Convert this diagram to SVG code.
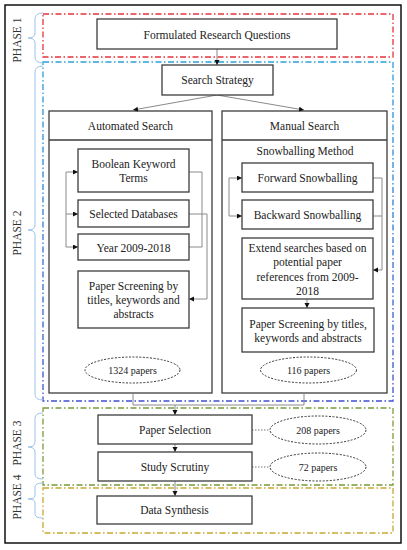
<svg xmlns="http://www.w3.org/2000/svg" width="407" height="550" viewBox="0 0 407 550">
<style>
text{font-family:"Liberation Serif","Times New Roman",serif;font-size:11.5px;fill:#222;text-anchor:middle}
.sm{font-size:10px}
.lbl{font-size:11.5px;fill:#333}
.node{fill:#fff;stroke:#3c3c3c;stroke-width:1.3}
.ell{fill:#fff;stroke:#333;stroke-width:1;stroke-dasharray:2 1.5}
.con{fill:none;stroke:#8a8a8a;stroke-width:1}
.arr{marker-end:url(#ah)}
.dot{fill:none;stroke:#777;stroke-width:1;stroke-dasharray:1.5 1.5}
.phase{fill:none;stroke-width:1.3;stroke-dasharray:6 2.5 1.5 2.5}
.br{fill:none;stroke:#9dc3e6;stroke-width:1}
</style>
<defs>
<marker id="ah" markerUnits="userSpaceOnUse" markerWidth="6" markerHeight="6" refX="5" refY="2.5" orient="auto">
<path d="M0,0 L5,2.5 L0,5 z" fill="#111"/>
</marker>
<linearGradient id="bg" x1="0" y1="0" x2="0" y2="1">
<stop offset="0" stop-color="#2aa0d8"/>
<stop offset="1" stop-color="#3b4fd0"/>
</linearGradient>
</defs>
<rect x="0" y="0" width="407" height="550" fill="#fff"/>
<rect x="5" y="5" width="396" height="538" fill="none" stroke="#111" stroke-width="1.5"/>

<g id="phases">
<rect class="phase" x="43" y="14" width="350" height="43" stroke="#e5333c"/>
<rect class="phase" x="43" y="62" width="350" height="339" stroke="url(#bg)"/>
<rect class="phase" x="43" y="408" width="350" height="77" stroke="#7a9a3a"/>
<rect class="phase" x="43" y="488" width="350" height="45" stroke="#c8a830"/>
<path class="br" d="M43,13 Q35,13 35,19 V33 Q35,38 28,38 Q35,38 35,43 V57 Q35,63 43,63"/>
<path class="br" d="M43,66 Q35,66 35,72 V225 Q35,230 28,230 Q35,230 35,235 V394 Q35,400 43,400"/>
<path class="br" d="M43,413 Q35,413 35,418 V442 Q35,447 28,447 Q35,447 35,452 V474 Q35,479 43,479"/>
<path class="br" d="M43,483 Q35,483 35,487 V495 Q35,499 28,499 Q35,499 35,503 V514 Q35,518 43,518"/>
<text class="lbl" transform="translate(21,40) rotate(-90)">PHASE 1</text>
<text class="lbl" transform="translate(21,233) rotate(-90)">PHASE 2</text>
<text class="lbl" transform="translate(21,443) rotate(-90)">PHASE 3</text>
<text class="lbl" transform="translate(21,497) rotate(-90)">PHASE 4</text>
</g>

<g id="automated">
<rect class="node" x="49" y="111" width="163" height="282"/>
<line x1="49" y1="140" x2="212" y2="140" stroke="#3c3c3c" stroke-width="1.5"/>
<text x="130.5" y="130">Automated Search</text>
</g>
<g id="manual">
<rect class="node" x="222" y="111" width="165" height="282"/>
<line x1="222" y1="140" x2="387" y2="140" stroke="#3c3c3c" stroke-width="1.5"/>
<text x="304.5" y="130">Manual Search</text>
<text x="305" y="155">Snowballing Method</text>
</g>

<g id="connectors">
<line class="con arr" x1="217" y1="49" x2="217" y2="65"/>
<line class="con arr" x1="217" y1="95" x2="133" y2="110"/>
<line class="con arr" x1="217" y1="95" x2="304" y2="110"/>
<path class="con" d="M66,172 V247"/>
<line class="con arr" x1="66" y1="172" x2="78" y2="172"/>
<line class="con arr" x1="66" y1="214" x2="78" y2="214"/>
<line class="con arr" x1="66" y1="247" x2="78" y2="247"/>
<path class="con" d="M189,172 H202 V247 H189"/>
<path class="con arr" d="M189,214 H207 V299 H189"/>
<path class="con" d="M229,178 V216"/>
<line class="con arr" x1="229" y1="178" x2="242" y2="178"/>
<line class="con arr" x1="229" y1="216" x2="242" y2="216"/>
<path class="con" d="M373,216 H382"/>
<path class="con arr" d="M373,178 H382 V270 H373"/>
<line class="con arr" x1="307" y1="299" x2="307" y2="308"/>
<path class="con" d="M133,393 V405 H304 V393"/>
<line class="con arr" x1="175" y1="405" x2="175" y2="415"/>
<line class="con arr" x1="175" y1="444" x2="175" y2="452"/>
<line class="con arr" x1="175" y1="481" x2="175" y2="496"/>
<line class="dot" x1="252" y1="430" x2="270" y2="430"/>
<line class="dot" x1="252" y1="467" x2="270" y2="467"/>
</g>

<g id="rq"><rect class="node" x="97" y="19" width="240" height="30"/><text x="217" y="39">Formulated Research Questions</text></g>
<g id="strategy"><rect class="node" x="162" y="65" width="111" height="30"/><text x="217.5" y="84">Search Strategy</text></g>

<g id="boolean"><rect class="node" x="78" y="149" width="111" height="43"/><text x="133.5" y="168">Boolean Keyword</text><text x="133.5" y="182">Terms</text></g>
<g id="databases"><rect class="node" x="78" y="200" width="111" height="27"/><text x="133.5" y="218">Selected Databases</text></g>
<g id="year"><rect class="node" x="78" y="234" width="111" height="26"/><text x="133.5" y="252">Year 2009-2018</text></g>
<g id="screen-auto"><rect class="node" x="78" y="271" width="111" height="57"/><text x="133.5" y="289.5">Paper Screening by</text><text x="133.5" y="303.5">titles, keywords and</text><text x="133.5" y="317.5">abstracts</text></g>
<g id="papers-1324"><ellipse class="ell" cx="132.5" cy="370" rx="47.5" ry="13"/><text class="sm" x="132.5" y="373.5">1324 papers</text></g>

<g id="forward"><rect class="node" x="242" y="163" width="131" height="29"/><text x="307.5" y="182">Forward Snowballing</text></g>
<g id="backward"><rect class="node" x="242" y="200" width="131" height="29"/><text x="307.5" y="219">Backward Snowballing</text></g>
<g id="extend"><rect class="node" x="242" y="238" width="131" height="61"/><text x="307.5" y="252">Extend searches based on</text><text x="307.5" y="266">potential paper</text><text x="307.5" y="280.5">references from 2009-</text><text x="307.5" y="294.5">2018</text></g>
<g id="screen-manual"><rect class="node" x="242" y="308" width="132" height="44"/><text x="308" y="328">Paper Screening by titles,</text><text x="308" y="342">keywords and abstracts</text></g>
<g id="papers-116"><ellipse class="ell" cx="308.5" cy="370" rx="48" ry="13"/><text class="sm" x="308.5" y="373.5">116 papers</text></g>

<g id="selection"><rect class="node" x="98" y="415" width="154" height="29"/><text x="175" y="434">Paper Selection</text></g>
<g id="papers-208"><ellipse class="ell" cx="318" cy="430" rx="48" ry="14"/><text class="sm" x="318" y="433.5">208 papers</text></g>
<g id="scrutiny"><rect class="node" x="98" y="452" width="154" height="29"/><text x="175" y="471">Study Scrutiny</text></g>
<g id="papers-72"><ellipse class="ell" cx="318" cy="467" rx="48" ry="14"/><text class="sm" x="318" y="470.5">72 papers</text></g>
<g id="synthesis"><rect class="node" x="97" y="496" width="155" height="28"/><text x="174.5" y="514">Data Synthesis</text></g>
</svg>
